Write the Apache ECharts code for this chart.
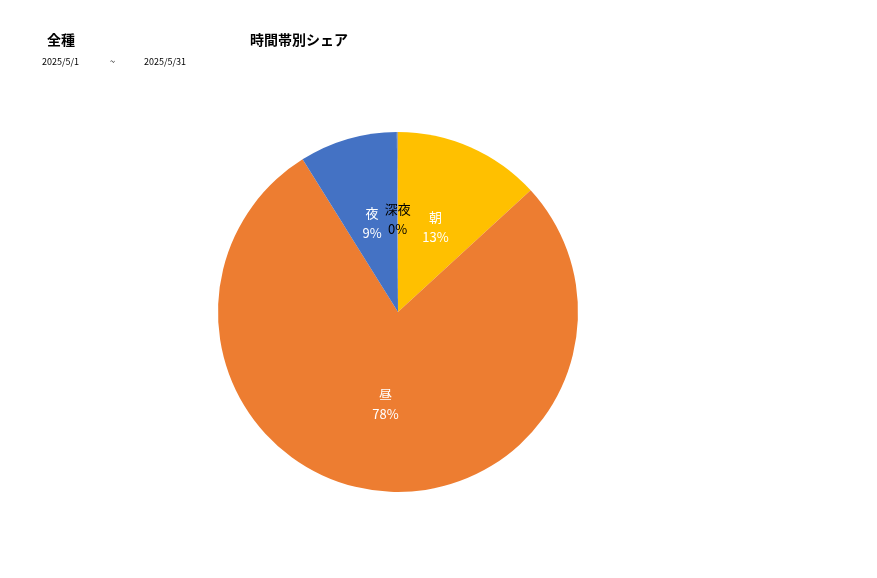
<!DOCTYPE html>
<html>
<head>
<meta charset="utf-8">
<script src="https://cdn.jsdelivr.net/npm/echarts@6/dist/echarts.min.js"></script>
<style>
html, body { margin: 0; padding: 0; background: #fff; }
#chart { width: 877px; height: 578px; }
</style>
</head>
<body>
<div id="chart"></div>
<script>
// 時間帯別シェア (2025/5/1 ~ 2025/5/31)
var categories = ['朝', '昼', '夜', '深夜'];
var shares = [13.2, 78.0, 8.8, 0.1];
var sliceColors = ['#FFC000', '#ED7D31', '#4472C4', '#A5A5A5'];
var labelColors = ['#ffffff', '#ffffff', '#ffffff', '#000000'];

var font = '"Noto Sans CJK JP", "Noto Sans", sans-serif';

var pieData = categories.map(function (name, i) {
    return {
        name: name,
        value: shares[i],
        itemStyle: { color: sliceColors[i] },
        label: { color: labelColors[i] }
    };
});

var option = {
    backgroundColor: '#ffffff',
    animation: false,
    textStyle: { fontFamily: font },
    graphic: [
        { type: 'text', left: 47, top: 33, style: { text: '全種', font: 'bold 14px ' + font, fill: '#000' } },
        { type: 'text', left: 250, top: 33, style: { text: '時間帯別シェア', font: 'bold 14px ' + font, fill: '#000' } },
        { type: 'text', left: 42, top: 57, style: { text: '2025/5/1', font: '9px ' + font, fill: '#000' } },
        { type: 'text', left: 110, top: 57, style: { text: '~', font: '9px ' + font, fill: '#000' } },
        { type: 'text', left: 144, top: 57, style: { text: '2025/5/31', font: '9px ' + font, fill: '#000' } }
    ],
    series: [
        {
            name: '時間帯別シェア',
            type: 'pie',
            center: [398, 312],
            radius: [0, 180],
            startAngle: 90,
            clockwise: true,
            percentPrecision: 0,
            minShowLabelAngle: 0,
            avoidLabelOverlap: false,
            label: {
                show: true,
                position: 'inside',
                formatter: '{b}\n{d}%',
                fontSize: 13,
                lineHeight: 20,
                fontFamily: font
            },
            labelLine: { show: false },
            emphasis: { disabled: true },
            data: pieData
        }
    ]
};

var myChart = echarts.init(document.getElementById('chart'));
myChart.setOption(option);
</script>
</body>
</html>
